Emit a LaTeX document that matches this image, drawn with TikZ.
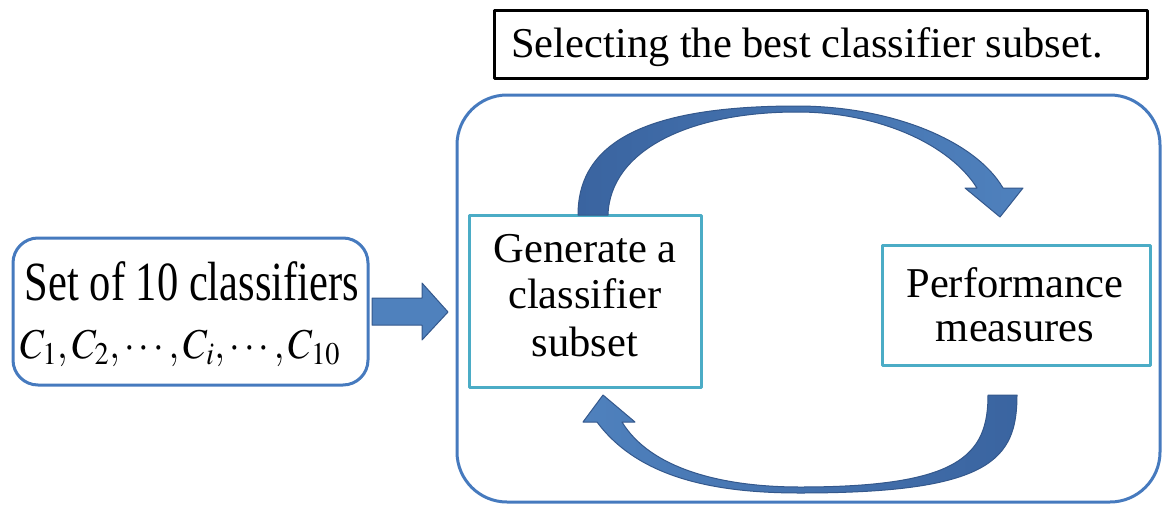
\documentclass[tikz,border=0pt]{standalone}
\usepackage{mathptmx}
\usepackage{fontspec}
\setmainfont{Liberation Serif}
\definecolor{boxblue}{RGB}{70,122,190}
\definecolor{boxcyan}{RGB}{75,172,198}
\definecolor{arrowfill}{RGB}{79,129,189}
\definecolor{arrowback}{RGB}{58,100,160}
\definecolor{arrowedge}{RGB}{52,88,140}
\begin{document}
\begin{tikzpicture}[x=1pt,y=-1pt,line join=round,
  txt/.style={font=\fontsize{42.5}{47}\selectfont,inner sep=0pt,anchor=base},
  framebox/.style={inner sep=0pt,line width=3pt},
  blockarrow/.style={draw=arrowedge,line width=1pt,fill=arrowfill}]
\useasboundingbox (0,0) rectangle (1168,504);
% frames
\node[framebox,draw=black,minimum width=653pt,minimum height=68pt] (title) at (820.5,44) {};
\node[framebox,draw=boxblue,rounded corners=50pt,minimum width=703pt,minimum height=407pt] (loop) at (808.5,298.5) {};
\node[framebox,draw=boxblue,rounded corners=25pt,minimum width=355pt,minimum height=147pt] (set) at (190.5,311.5) {};
\node[framebox,draw=boxcyan,minimum width=232pt,minimum height=172pt] (gen) at (585,301) {};
\node[framebox,draw=boxcyan,minimum width=268pt,minimum height=120pt] (perf) at (1016,305) {};
% texts
\node[txt] (titletxt) at (807,57) {Selecting the best classifier subset.};
\node[txt] (set1) at (192,300) {\scalebox{1}[1.3]{Set of 10 classifiers}};
\node[txt] (set2) at (180,358) {\resizebox{320pt}{\height}{$C_1,C_2,\cdots,C_i,\cdots,C_{10}$}};
\node[txt] (gen1) at (585,262) {Generate a};
\node[txt] (gen2) at (585,308) {classifier};
\node[txt] (gen3) at (585,356) {subset};
\node[txt] (perf1) at (1015,297) {Performance};
\node[txt] (perf2) at (1015,341) {measures};
% straight block arrow
\draw[blockarrow] (372,298) -- (422,298) -- (422,283) -- (448,312) -- (422,340) -- (422,325) -- (372,325) -- cycle;
% upper curved arrow
\path[draw=arrowedge,line width=1pt,left color=arrowback,right color=arrowfill]
  (578,215) .. controls (578,140) and (650,106) .. (797,106)
  .. controls (890,106) and (975,140) .. (1003,188)
  -- (1023,188) -- (1000,217) -- (965,188) -- (977,188)
  .. controls (950,145) and (880,112) .. (797,112)
  .. controls (690,112) and (610,150) .. (608,215) -- cycle;
% lower curved arrow
\path[draw=arrowedge,line width=1pt,left color=arrowfill,right color=arrowback]
  (1017,395) .. controls (1017,460) and (990,493) .. (800,493)
  .. controls (720,493) and (640,480) .. (597,422)
  -- (583,422) -- (603,395) -- (635,422) -- (622,422)
  .. controls (650,468) and (720,487) .. (800,487)
  .. controls (960,487) and (988,455) .. (988,395) -- cycle;
\end{tikzpicture}
\end{document}
